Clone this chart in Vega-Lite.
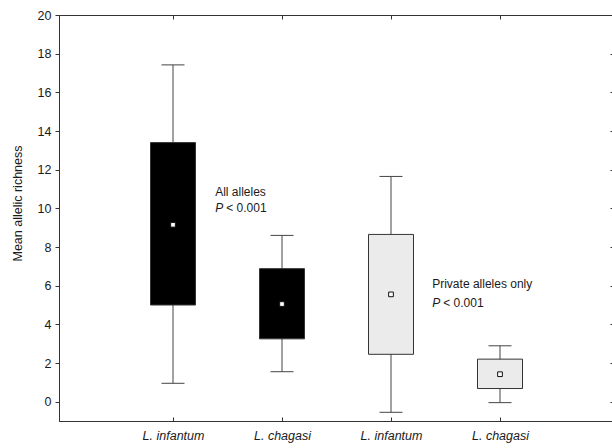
{
  "$schema": "https://vega.github.io/schema/vega-lite/v6.json",
  "width": 555,
  "height": 406,
  "autosize": "none",
  "padding": {"left": 59, "top": 15, "right": 0, "bottom": 27},
  "background": "white",
  "config": {
    "font": "Liberation Sans",
    "view": {"stroke": "#333", "strokeWidth": 1},
    "text": {"fontWeight": "normal", "font": "Liberation Sans"},
    "axis": {
      "grid": false,
      "domainColor": "#333",
      "tickColor": "#333",
      "labelColor": "#1a1a1a",
      "labelFont": "Liberation Sans",
      "labelFontSize": 12.5,
      "titleFont": "Liberation Sans",
      "titleColor": "#1a1a1a",
      "titleFontWeight": "normal"
    }
  },
  "data": {
    "values": [
      {"pos": 1, "species": "L. infantum", "set": "All alleles", "lo": 0.95, "q1": 5.0, "mean": 9.15, "q3": 13.4, "hi": 17.42},
      {"pos": 2, "species": "L. chagasi", "set": "All alleles", "lo": 1.55, "q1": 3.25, "mean": 5.05, "q3": 6.88, "hi": 8.6},
      {"pos": 3, "species": "L. infantum", "set": "Private alleles only", "lo": -0.55, "q1": 2.45, "mean": 5.55, "q3": 8.65, "hi": 11.65},
      {"pos": 4, "species": "L. chagasi", "set": "Private alleles only", "lo": -0.05, "q1": 0.68, "mean": 1.42, "q3": 2.2, "hi": 2.89}
    ]
  },
  "resolve": {"axis": {"x": "independent", "y": "independent"}},
  "layer": [
    {
      "mark": {"type": "rule", "color": "#444", "strokeWidth": 1},
      "encoding": {
        "x": {
          "field": "pos", "type": "quantitative",
          "scale": {"domain": [0, 5], "nice": false, "zero": false},
          "axis": {
            "orient": "bottom", "title": null, "values": [1, 2, 3, 4],
            "labelExpr": "datum.value == 1 || datum.value == 3 ? 'L. infantum' : 'L. chagasi'",
            "labelFontStyle": "italic", "tickSize": -4, "labelPadding": 12, "labelFlush": false
          }
        },
        "y": {
          "field": "lo", "type": "quantitative",
          "scale": {"domain": [-1, 20], "nice": false, "zero": false},
          "axis": {
            "orient": "left", "values": [0, 2, 4, 6, 8, 10, 12, 14, 16, 18, 20],
            "title": "Mean allelic richness", "titleFontSize": 12.5,
            "titleX": -42, "titleY": 188, "titleAngle": -90, "titleAlign": "center", "titleBaseline": "middle",
            "tickSize": 4, "labelPadding": 4
          }
        },
        "y2": {"field": "hi"}
      }
    },
    {
      "mark": {"type": "tick", "orient": "horizontal", "size": 23, "thickness": 1, "color": "#444", "opacity": 1},
      "encoding": {
        "x": {"field": "pos", "type": "quantitative",
          "axis": {"orient": "top", "title": null, "values": [1, 2, 3, 4], "labels": false, "tickSize": -4, "domain": false}},
        "y": {"field": "hi", "type": "quantitative",
          "axis": {"orient": "right", "title": null, "values": [0, 2, 4, 6, 8, 10, 12, 14, 16, 18, 20], "labels": false, "tickSize": -4, "domain": false}}
      }
    },
    {
      "mark": {"type": "tick", "orient": "horizontal", "size": 23, "thickness": 1, "color": "#444", "opacity": 1},
      "encoding": {
        "x": {"field": "pos", "type": "quantitative", "axis": null},
        "y": {"field": "lo", "type": "quantitative", "axis": null}
      }
    },
    {
      "mark": {"type": "bar", "size": 45, "stroke": "#333", "strokeWidth": 1},
      "encoding": {
        "x": {"field": "pos", "type": "quantitative", "axis": null},
        "y": {"field": "q1", "type": "quantitative", "axis": null},
        "y2": {"field": "q3"},
        "fill": {
          "field": "set", "type": "nominal",
          "scale": {"domain": ["All alleles", "Private alleles only"], "range": ["#000000", "#ebebeb"]},
          "legend": null
        }
      }
    },
    {
      "mark": {"type": "square", "size": 22, "fill": "white", "stroke": "#111", "strokeWidth": 1, "opacity": 1},
      "encoding": {
        "x": {"field": "pos", "type": "quantitative", "axis": null},
        "y": {"field": "mean", "type": "quantitative", "axis": null}
      }
    },
    {
      "data": {"values": [{}]},
      "mark": {"type": "text", "text": "All alleles", "align": "left", "baseline": "middle", "font": "Liberation Sans", "fontSize": 12, "fontWeight": 400, "color": "#1a1a1a"},
      "encoding": {
        "x": {"datum": 1.387, "type": "quantitative", "axis": null},
        "y": {"datum": 10.84, "type": "quantitative", "axis": null}
      }
    },
    {
      "data": {"values": [{}]},
      "mark": {"type": "text", "text": "P", "align": "left", "baseline": "middle", "font": "Liberation Sans", "fontSize": 12, "fontWeight": 400, "fontStyle": "italic", "color": "#1a1a1a"},
      "encoding": {
        "x": {"datum": 1.387, "type": "quantitative", "axis": null},
        "y": {"datum": 10.0, "type": "quantitative", "axis": null}
      }
    },
    {
      "data": {"values": [{}]},
      "mark": {"type": "text", "text": "< 0.001", "align": "left", "baseline": "middle", "font": "Liberation Sans", "fontSize": 12, "fontWeight": 400, "dx": 11, "color": "#1a1a1a"},
      "encoding": {
        "x": {"datum": 1.387, "type": "quantitative", "axis": null},
        "y": {"datum": 10.0, "type": "quantitative", "axis": null}
      }
    },
    {
      "data": {"values": [{}]},
      "mark": {"type": "text", "text": "Private alleles only", "align": "left", "baseline": "middle", "font": "Liberation Sans", "fontSize": 12, "fontWeight": 400, "color": "#1a1a1a"},
      "encoding": {
        "x": {"datum": 3.378, "type": "quantitative", "axis": null},
        "y": {"datum": 6.08, "type": "quantitative", "axis": null}
      }
    },
    {
      "data": {"values": [{}]},
      "mark": {"type": "text", "text": "P", "align": "left", "baseline": "middle", "font": "Liberation Sans", "fontSize": 12, "fontWeight": 400, "fontStyle": "italic", "color": "#1a1a1a"},
      "encoding": {
        "x": {"datum": 3.378, "type": "quantitative", "axis": null},
        "y": {"datum": 5.1, "type": "quantitative", "axis": null}
      }
    },
    {
      "data": {"values": [{}]},
      "mark": {"type": "text", "text": "< 0.001", "align": "left", "baseline": "middle", "font": "Liberation Sans", "fontSize": 12, "fontWeight": 400, "dx": 11, "color": "#1a1a1a"},
      "encoding": {
        "x": {"datum": 3.378, "type": "quantitative", "axis": null},
        "y": {"datum": 5.1, "type": "quantitative", "axis": null}
      }
    }
  ]
}
